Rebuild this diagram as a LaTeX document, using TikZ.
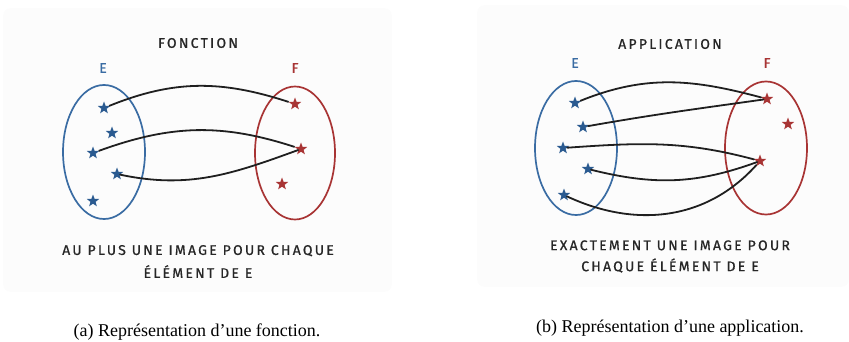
\documentclass[tikz,border=0pt]{standalone}
\usepackage{fontspec}
\setmainfont{Liberation Serif}
\newfontfamily\hand[LetterSpace=16,FakeBold=0.8]{Fira Sans}
\usetikzlibrary{shapes.geometric}
\definecolor{eblue}{HTML}{3A6CA3}
\definecolor{sblue}{HTML}{2A5A90}
\definecolor{fred}{HTML}{A83434}
\definecolor{panel}{HTML}{FCFCFC}
\tikzset{
  panelbox/.style={fill=panel, draw=none, rounded corners=8pt},
  setE/.style={draw=eblue, line width=1.7pt, ellipse},
  setF/.style={draw=fred, line width=1.7pt, ellipse},
  bstar/.style={star, star points=5, star point ratio=2.4, minimum size=13pt, inner sep=0pt, fill=sblue, draw=none},
  rstar/.style={star, star points=5, star point ratio=2.4, minimum size=13pt, inner sep=0pt, fill=fred, draw=none},
  link/.style={draw=black!88, line width=1.8pt, line cap=round},
  title/.style={font=\hand\fontsize{14}{16}\selectfont, text=black!85},
  setlabE/.style={font=\hand\fontsize{14}{16}\selectfont, text=eblue},
  setlabF/.style={font=\hand\fontsize{14}{16}\selectfont, text=fred},
  desc/.style={font=\hand\fontsize{14}{16}\selectfont, text=black!85, align=center},
  caption/.style={font=\fontsize{18}{20}\selectfont}
}
\begin{document}
\begin{tikzpicture}[x=1pt,y=1pt]
\useasboundingbox (0,0) rectangle (849,-342);
% panels
\path[panelbox] (3,-8) rectangle (392,-292);
\path[panelbox] (477,-5) rectangle (849,-287);

% ---------- left: fonction ----------
\node[title] (t1) at (198,-43) {FONCTION};
\node[setlabE] (lE) at (103,-68) {E};
\node[setlabF] (lF) at (295,-68) {F};
\node[setE, minimum width=82pt, minimum height=134pt] (lEe) at (104,-152) {};
\node[setF, minimum width=80pt, minimum height=133pt] (lFe) at (295,-153) {};
\node[bstar] (le1) at (104,-108) {};
\node[bstar] (le2) at (112,-133) {};
\node[bstar] (le3) at (93,-153) {};
\node[bstar] (le4) at (117,-174) {};
\node[bstar] (le5) at (93,-201) {};
\node[rstar] (lf1) at (295,-104) {};
\node[rstar] (lf2) at (301,-149) {};
\node[rstar] (lf3) at (282,-184) {};
\draw[link] (le1) to[out=22,in=162] (lf1);
\draw[link] (le3) to[out=20,in=162] (lf2);
\draw[link] (le4) to[out=-12,in=200] (lf2);
\node[desc] (d1) at (198,-261.5) {AU PLUS UNE IMAGE POUR CHAQUE\\[7pt] ÉLÉMENT DE E};
\node[caption] (c1) at (197,-332) {(a) Représentation d’une fonction.};

% ---------- right: application ----------
\node[title] (t2) at (670,-44) {APPLICATION};
\node[setlabE] (rE) at (575,-63) {E};
\node[setlabF] (rF) at (767,-63) {F};
\node[setE, minimum width=82pt, minimum height=134pt] (rEe) at (576,-148) {};
\node[setF, minimum width=82pt, minimum height=133pt] (rFe) at (766,-148) {};
\node[bstar] (re1) at (575,-103) {};
\node[bstar] (re2) at (583,-127) {};
\node[bstar] (re3) at (563,-148) {};
\node[bstar] (re4) at (588,-169) {};
\node[bstar] (re5) at (564,-195) {};
\node[rstar] (rf1) at (767,-99) {};
\node[rstar] (rf2) at (788,-124) {};
\node[rstar] (rf3) at (760,-161) {};
\draw[link] (re1) to[out=22,in=165] (rf1);
\draw[link] (re2) to[out=10,in=188] (rf1);
\draw[link] (re3) to[out=4,in=165] (rf3);
\draw[link] (re4) to[out=-14,in=200] (rf3);
\draw[link] (re5) to[out=-25,in=228] (rf3);
\node[desc] (d2) at (670,-256.5) {EXACTEMENT UNE IMAGE POUR\\[5pt] CHAQUE ÉLÉMENT DE E};
\node[caption] (c2) at (670,-328) {(b) Représentation d’une application.};
\end{tikzpicture}
\end{document}
